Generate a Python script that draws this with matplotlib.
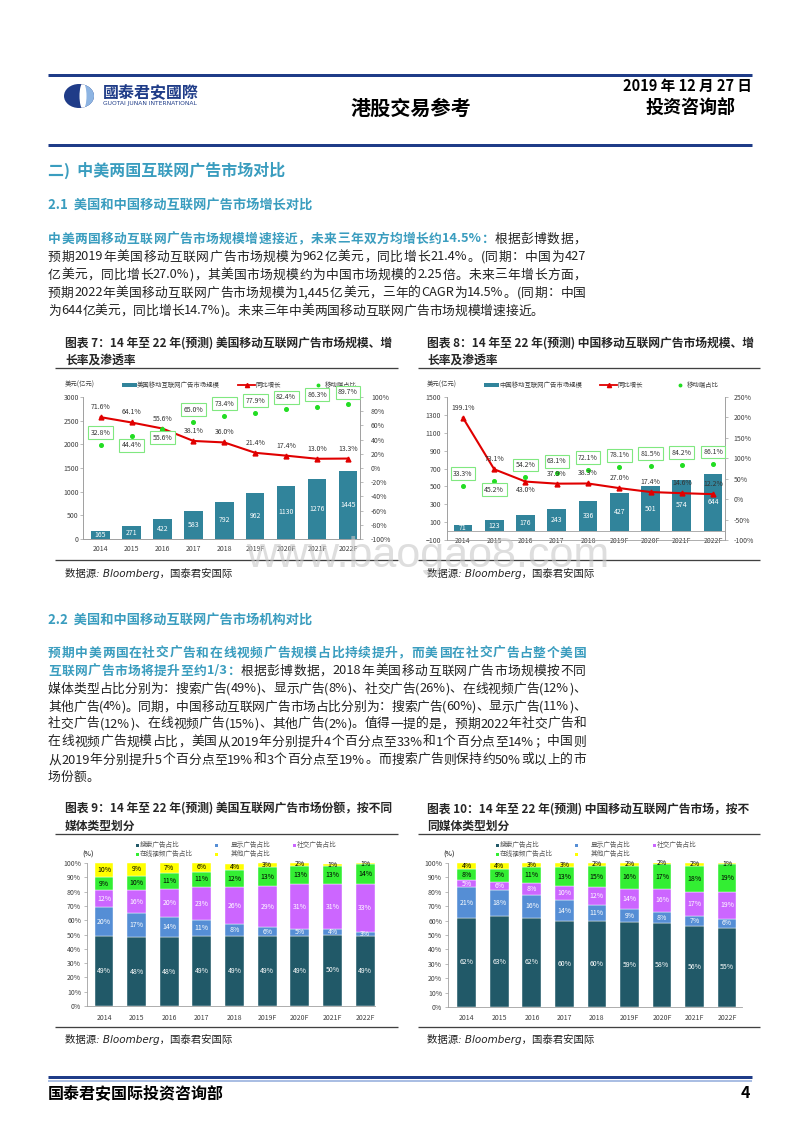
import re
import numpy as np
import matplotlib
matplotlib.use('Agg')
import matplotlib.pyplot as plt
from matplotlib.patches import Rectangle, Ellipse
from matplotlib.font_manager import FontProperties

FONT = ['Noto Sans CJK SC', 'DejaVu Sans']
plt.rcParams['font.family'] = FONT

W, H = 800, 1132

years = ['2014', '2015', '2016', '2017', '2018', '2019F', '2020F', '2021F', '2022F']

# 图表7 美国
us_size = [165, 271, 422, 583, 792, 962, 1130, 1276, 1445]
us_growth = [71.6, 64.1, 55.6, 38.1, 36.0, 21.4, 17.4, 13.0, 13.3]
us_mobile = [32.8, 44.4, 55.6, 65.0, 73.4, 77.9, 82.4, 86.3, 89.7]

# 图表8 中国
cn_size = [71, 123, 176, 243, 336, 427, 501, 574, 644]
cn_growth = [199.1, 73.1, 43.0, 37.9, 38.3, 27.0, 17.4, 14.6, 12.2]
cn_mobile = [33.3, 45.2, 54.2, 63.1, 72.1, 78.1, 81.5, 84.2, 86.1]

# 图表9 美国份额
share_names = ['搜索广告占比', '显示广告占比', '社交广告占比', '在线视频广告占比', '其他广告占比']
us_search = [49, 48, 48, 49, 49, 49, 49, 50, 49]
us_display = [20, 17, 14, 11, 8, 6, 5, 4, 3]
us_social = [12, 16, 20, 23, 26, 29, 31, 31, 33]
us_video = [9, 10, 11, 11, 12, 13, 13, 13, 14]
us_other = [10, 9, 7, 6, 4, 3, 2, 1, 1]

# 图表10 中国份额
cn_search = [62, 63, 62, 60, 60, 59, 58, 56, 55]
cn_display = [21, 18, 16, 14, 11, 9, 8, 7, 6]
cn_social = [5, 6, 8, 10, 12, 14, 16, 17, 19]
cn_video = [8, 9, 11, 13, 15, 16, 17, 18, 19]
cn_other = [4, 4, 3, 3, 2, 2, 2, 2, 1]

NAVY = '#1F3C88'
TEAL_TXT = '#3A9DBF'
BAR = '#31849B'
RED = '#E00000'
GREEN = '#22DD22'
GREY = '#404040'
share_colors = ['#215968', '#558ED5', '#CC66FF', '#33EE33', '#FFFF00']
share_text = ['white', 'white', 'white', 'black', 'black']

fig = plt.figure(figsize=(W / 100, H / 100), dpi=100)
bg = fig.add_axes([0, 0, 1, 1])
bg.set_xlim(0, W)
bg.set_ylim(H, 0)
bg.axis('off')
renderer = fig.canvas.get_renderer()


def hline(x0, x1, y, color, lw):
    bg.plot([x0, x1], [y, y], color=color, lw=lw * 0.72, solid_capstyle='butt')


def axes_px(l, t, r, b):
    return fig.add_axes([l / W, 1 - b / H, (r - l) / W, (b - t) / H])


def para_line(y, segs, x0=48, x1=586, size=9.2, justify=True):
    # 两端对齐: 拉开每个字之间的距离
    toks = []
    for s, color, weight in segs:
        fp = FontProperties(family=FONT, size=size, weight=weight)
        for tk in re.findall(r'[A-Za-z0-9.,%/]+|.', s):
            w = renderer.get_text_width_height_descent(tk, fp, ismath=False)[0]
            toks.append((tk, color, weight, w))
    total = sum(t[3] for t in toks)
    gap = (x1 - x0 - total) / (len(toks) - 1) if justify else 0
    x = x0
    for tk, color, weight, w in toks:
        bg.text(x, y, tk, fontsize=size, color=color, fontweight=weight,
                ha='left', va='center')
        x += w + gap


# ---------------- 页眉 ----------------
hline(48, 752, 75, NAVY, 3)
logo = Ellipse((79, 96), 30, 24, fc=NAVY, ec='none')
bg.add_patch(logo)
rp = Rectangle((83, 80), 20, 32, fc='#8DB4E2', ec='none')
bg.add_patch(rp)
rp.set_clip_path(logo)
band = Ellipse((83, 96), 7, 26, fc='white', ec='none')
bg.add_patch(band)
band.set_clip_path(logo)
bg.text(103, 93, '國泰君安國際', fontsize=11.5, fontweight='bold', color=NAVY, va='center')
bg.text(103, 104, 'GUOTAI JUNAN INTERNATIONAL', fontsize=4.3, color=NAVY, va='center',
        family='DejaVu Sans')
bg.text(411, 108, '港股交易参考', fontsize=14.5, fontweight='bold', ha='center', va='center')
bg.text(752, 86, '2019 年 12 月 27 日', fontsize=10.5, fontweight='bold', ha='right', va='center')
bg.text(691, 107, '投资咨询部', fontsize=13, fontweight='bold', ha='center', va='center')
hline(48, 752, 145, NAVY, 3)

# ---------------- 正文 1 ----------------
bg.text(48, 170, '二)  中美两国互联网广告市场对比', fontsize=11.5, fontweight='bold',
        color=TEAL_TXT, va='center')
bg.text(48, 205, '2.1  美国和中国移动互联网广告市场增长对比', fontsize=9.5, fontweight='bold',
        color=TEAL_TXT, va='center')

para_line(239, [('中美两国移动互联网广告市场规模增速接近，未来三年双方均增长约14.5%：', TEAL_TXT, 'bold'),
                ('根据彭博数据，', '#222222', 'normal')])
para_line(257, [('预期2019年美国移动互联网广告市场规模为962亿美元，同比增长21.4%。(同期：中国为427', '#222222', 'normal')])
para_line(275, [('亿美元，同比增长27.0%)，其美国市场规模约为中国市场规模的2.25倍。未来三年增长方面，', '#222222', 'normal')])
para_line(293, [('预期2022年美国移动互联网广告市场规模为1,445亿美元，三年的CAGR为14.5%。(同期：中国', '#222222', 'normal')])
para_line(311, [('为644亿美元，同比增长14.7%)。未来三年中美两国移动互联网广告市场规模增速接近。', '#222222', 'normal')],
          justify=False)

# ---------------- 正文 2 ----------------
bg.text(48, 620, '2.2  美国和中国移动互联网广告市场机构对比', fontsize=9.5, fontweight='bold',
        color=TEAL_TXT, va='center')
para_line(653, [('预期中美两国在社交广告和在线视频广告规模占比持续提升，而美国在社交广告占整个美国', TEAL_TXT, 'bold')])
para_line(671, [('互联网广告市场将提升至约1/3：', TEAL_TXT, 'bold'),
                ('根据彭博数据，2018年美国移动互联网广告市场规模按不同', '#222222', 'normal')])
para_line(689, [('媒体类型占比分别为：搜索广告(49%)、显示广告(8%)、社交广告(26%)、在线视频广告(12%)、', '#222222', 'normal')])
para_line(707, [('其他广告(4%)。同期，中国移动互联网广告市场占比分别为：搜索广告(60%)、显示广告(11%)、', '#222222', 'normal')])
para_line(724, [('社交广告(12%)、在线视频广告(15%)、其他广告(2%)。值得一提的是，预期2022年社交广告和', '#222222', 'normal')])
para_line(742, [('在线视频广告规模占比，美国从2019年分别提升4个百分点至33%和1个百分点至14%；中国则', '#222222', 'normal')])
para_line(760, [('从2019年分别提升5个百分点至19%和3个百分点至19%。而搜索广告则保持约50%或以上的市', '#222222', 'normal')])
para_line(777, [('场份额。', '#222222', 'normal')], justify=False)


# ---------------- 图表标题/来源 ----------------
def chart_frame(x0, x1, tx, ty, lines, rule_top, rule_bot, src_y):
    for i, s in enumerate(lines):
        bg.text(tx, ty + i * 17, s, fontsize=8.5, fontweight='bold', color='#262626', va='center')
    hline(x0, x1, rule_top, GREY, 1.3)
    hline(x0, x1, rule_bot, GREY, 1.3)
    bg.text(tx, src_y, '数据源: Bloomberg，国泰君安国际', fontsize=7.5, style='italic',
            family=['DejaVu Sans', 'Noto Sans CJK SC'], color='#222222', va='center')


chart_frame(55, 398, 65, 343, ['图表 7：14 年至 22 年(预测) 美国移动互联网广告市场规模、增', '长率及渗透率'],
            368, 560, 573)
chart_frame(418, 760, 427, 343, ['图表 8：14 年至 22 年(预测) 中国移动互联网广告市场规模、增', '长率及渗透率'],
            368, 560, 573)
chart_frame(55, 398, 65, 809, ['图表 9：14 年至 22 年(预测) 美国互联网广告市场份额，按不同', '媒体类型划分'],
            834, 1027, 1039)
chart_frame(418, 760, 427, 809, ['图表 10：14 年至 22 年(预测) 中国移动互联网广告市场，按不', '同媒体类型划分'],
            834, 1027, 1039)


def style_axis(ax):
    for sp in ax.spines.values():
        sp.set_color('#A0A0A0')
        sp.set_linewidth(0.6)
    ax.tick_params(labelsize=5, colors='#A0A0A0', labelcolor=GREY, length=2, width=0.5)


def growth_chart(box, xlim, size, growth, mobile, ylim, yticks, rlim, rticks, xpad, lpad, rpad,
                 zero_line, grow_below, mob_below, legend_x, name):
    ax = axes_px(*box)
    x = np.arange(len(years))
    ax.bar(x, size, width=0.6, color=BAR, zorder=2)
    for i, v in enumerate(size):
        ax.text(i, v / 2, str(v), ha='center', va='center', fontsize=5, color='white', zorder=3)
    ax.set_xlim(*xlim)
    ax.set_ylim(*ylim)
    ax.set_yticks(yticks)
    ax.set_xticks(x)
    ax.set_xticklabels(years)
    style_axis(ax)
    ax.spines['top'].set_visible(False)
    ax.tick_params(axis='x', length=0, pad=xpad)
    ax.tick_params(axis='y', pad=lpad)
    if zero_line:
        ax.spines['bottom'].set_visible(False)
        ax.axhline(0, color='#A0A0A0', lw=0.6, zorder=1)

    ax2 = ax.twinx()
    ax2.set_ylim(*rlim)
    ax2.set_yticks(rticks)
    ax2.set_yticklabels([f'{int(v)}%' for v in rticks])
    style_axis(ax2)
    ax2.spines['top'].set_visible(False)
    ax2.tick_params(axis='y', pad=rpad)
    ax2.plot(x, growth, color=RED, lw=1.5, marker='^', ms=3.5, zorder=4)
    ax2.plot(x, mobile, 'o', color=GREEN, ms=2.6, zorder=4)
    for i in x:
        dy = -8 if i in grow_below else 10
        ax2.annotate(f'{growth[i]:.1f}%', (i, growth[i]), xytext=(0, dy), textcoords='offset pixels',
                     ha='center', va='center', fontsize=5, color='#333333', zorder=5)
        dy = -9 if i in mob_below else 12
        ax2.annotate(f'{mobile[i]:.1f}%', (i, mobile[i]), xytext=(0, dy), textcoords='offset pixels',
                     ha='center', va='center', fontsize=5, color='#333333', zorder=5,
                     bbox=dict(boxstyle='square,pad=0.35', fc='white', ec='#80E880', lw=0.8))

    # 图例
    lx = legend_x
    bg.text(lx, 385, '美元(亿元)', fontsize=4.6, color=GREY, va='center')
    bg.add_patch(Rectangle((lx + 57, 383.3), 15, 3.4, fc=BAR, ec='none'))
    bg.text(lx + 72, 385, name, fontsize=4.6, color=GREY, va='center')
    bg.plot([lx + 173, lx + 190], [385, 385], color=RED, lw=1.3)
    bg.plot([lx + 181.5], [385], marker='^', color=RED, ms=3)
    bg.text(lx + 190, 385, '同比增长', fontsize=4.6, color=GREY, va='center')
    bg.plot([lx + 253], [385], 'o', color=GREEN, ms=1.8)
    bg.text(lx + 260, 385, '移动端占比', fontsize=4.6, color=GREY, va='center')


growth_chart((83, 397, 360, 539), (-0.57, 8.39), us_size, us_growth, us_mobile,
             (0, 3000), range(0, 3001, 500), (-100, 100), range(-100, 101, 20),
             4, 1, 6, False, [], [1, 2], 65, '美国移动互联网广告市场规模')
growth_chart((447, 397, 725, 540), (-0.51, 8.38), cn_size, cn_growth, cn_mobile,
             (-100, 1500), range(-100, 1501, 200), (-100, 250), range(-100, 251, 50),
             -2.5, 2.3, 4, True, [2], [1], 427, '中国移动互联网广告市场规模')


def share_chart(box, xlim, series, legend_x, pct_x):
    ax = axes_px(*box)
    x = np.arange(len(years))
    bottom = np.zeros(len(years))
    for vals, color, tc in zip(series, share_colors, share_text):
        ax.bar(x, vals, bottom=bottom, width=0.58, color=color, edgecolor='white', lw=0.3, zorder=2)
        for i, v in enumerate(vals):
            ax.text(i, bottom[i] + v / 2, f'{v}%', ha='center', va='center', fontsize=5,
                    color=tc, zorder=3)
        bottom += np.array(vals)
    ax.set_xlim(*xlim)
    ax.set_ylim(0, 100)
    ax.set_yticks(range(0, 101, 10))
    ax.set_yticklabels([f'{v}%' for v in range(0, 101, 10)])
    ax.set_xticks(x)
    ax.set_xticklabels(years)
    style_axis(ax)
    ax.spines['top'].set_visible(False)
    ax.spines['right'].set_visible(False)
    ax.tick_params(axis='x', length=0, pad=5.4)
    ax.tick_params(axis='y', pad=2.2)

    # 图例
    bg.text(pct_x, 854, '(%)', fontsize=4.8, fontweight='bold', color=GREY, va='center')
    pos = [(legend_x, 845), (legend_x + 79, 845), (legend_x + 157, 845),
           (legend_x, 854), (legend_x + 79, 854)]
    for (px, py), name, color, k in zip(pos, share_names, share_colors, range(5)):
        bg.add_patch(Rectangle((px - 1.5, py - 1.5), 3, 3, fc=color, ec='none'))
        tx = px + 15 if k in (1, 4) else px + 3
        bg.text(tx, py, name, fontsize=4.8, color='#595959', va='center')


share_chart((87, 863, 375, 1006), (-0.52, 8.3),
            [us_search, us_display, us_social, us_video, us_other], 137, 82)
share_chart((448, 863, 742, 1007), (-0.58, 8.46),
            [cn_search, cn_display, cn_social, cn_video, cn_other], 497, 443)

# ---------------- 页脚 ----------------
hline(48, 752, 1077, NAVY, 3)
hline(48, 752, 1080.5, '#8EA9DB', 1.5)
bg.text(48, 1093, '国泰君安国际投资咨询部', fontsize=11.5, fontweight='bold', va='center')
bg.text(745, 1093, '4', fontsize=11.5, fontweight='bold', ha='center', va='center')

# 水印
fig.text(428 / W, 1 - 567 / H, 'www.baogao8.com', fontsize=31, family='Liberation Sans',
         color='#c8c8c8', alpha=0.6, ha='center', va='baseline')

fig.savefig('out.png', dpi=100)
